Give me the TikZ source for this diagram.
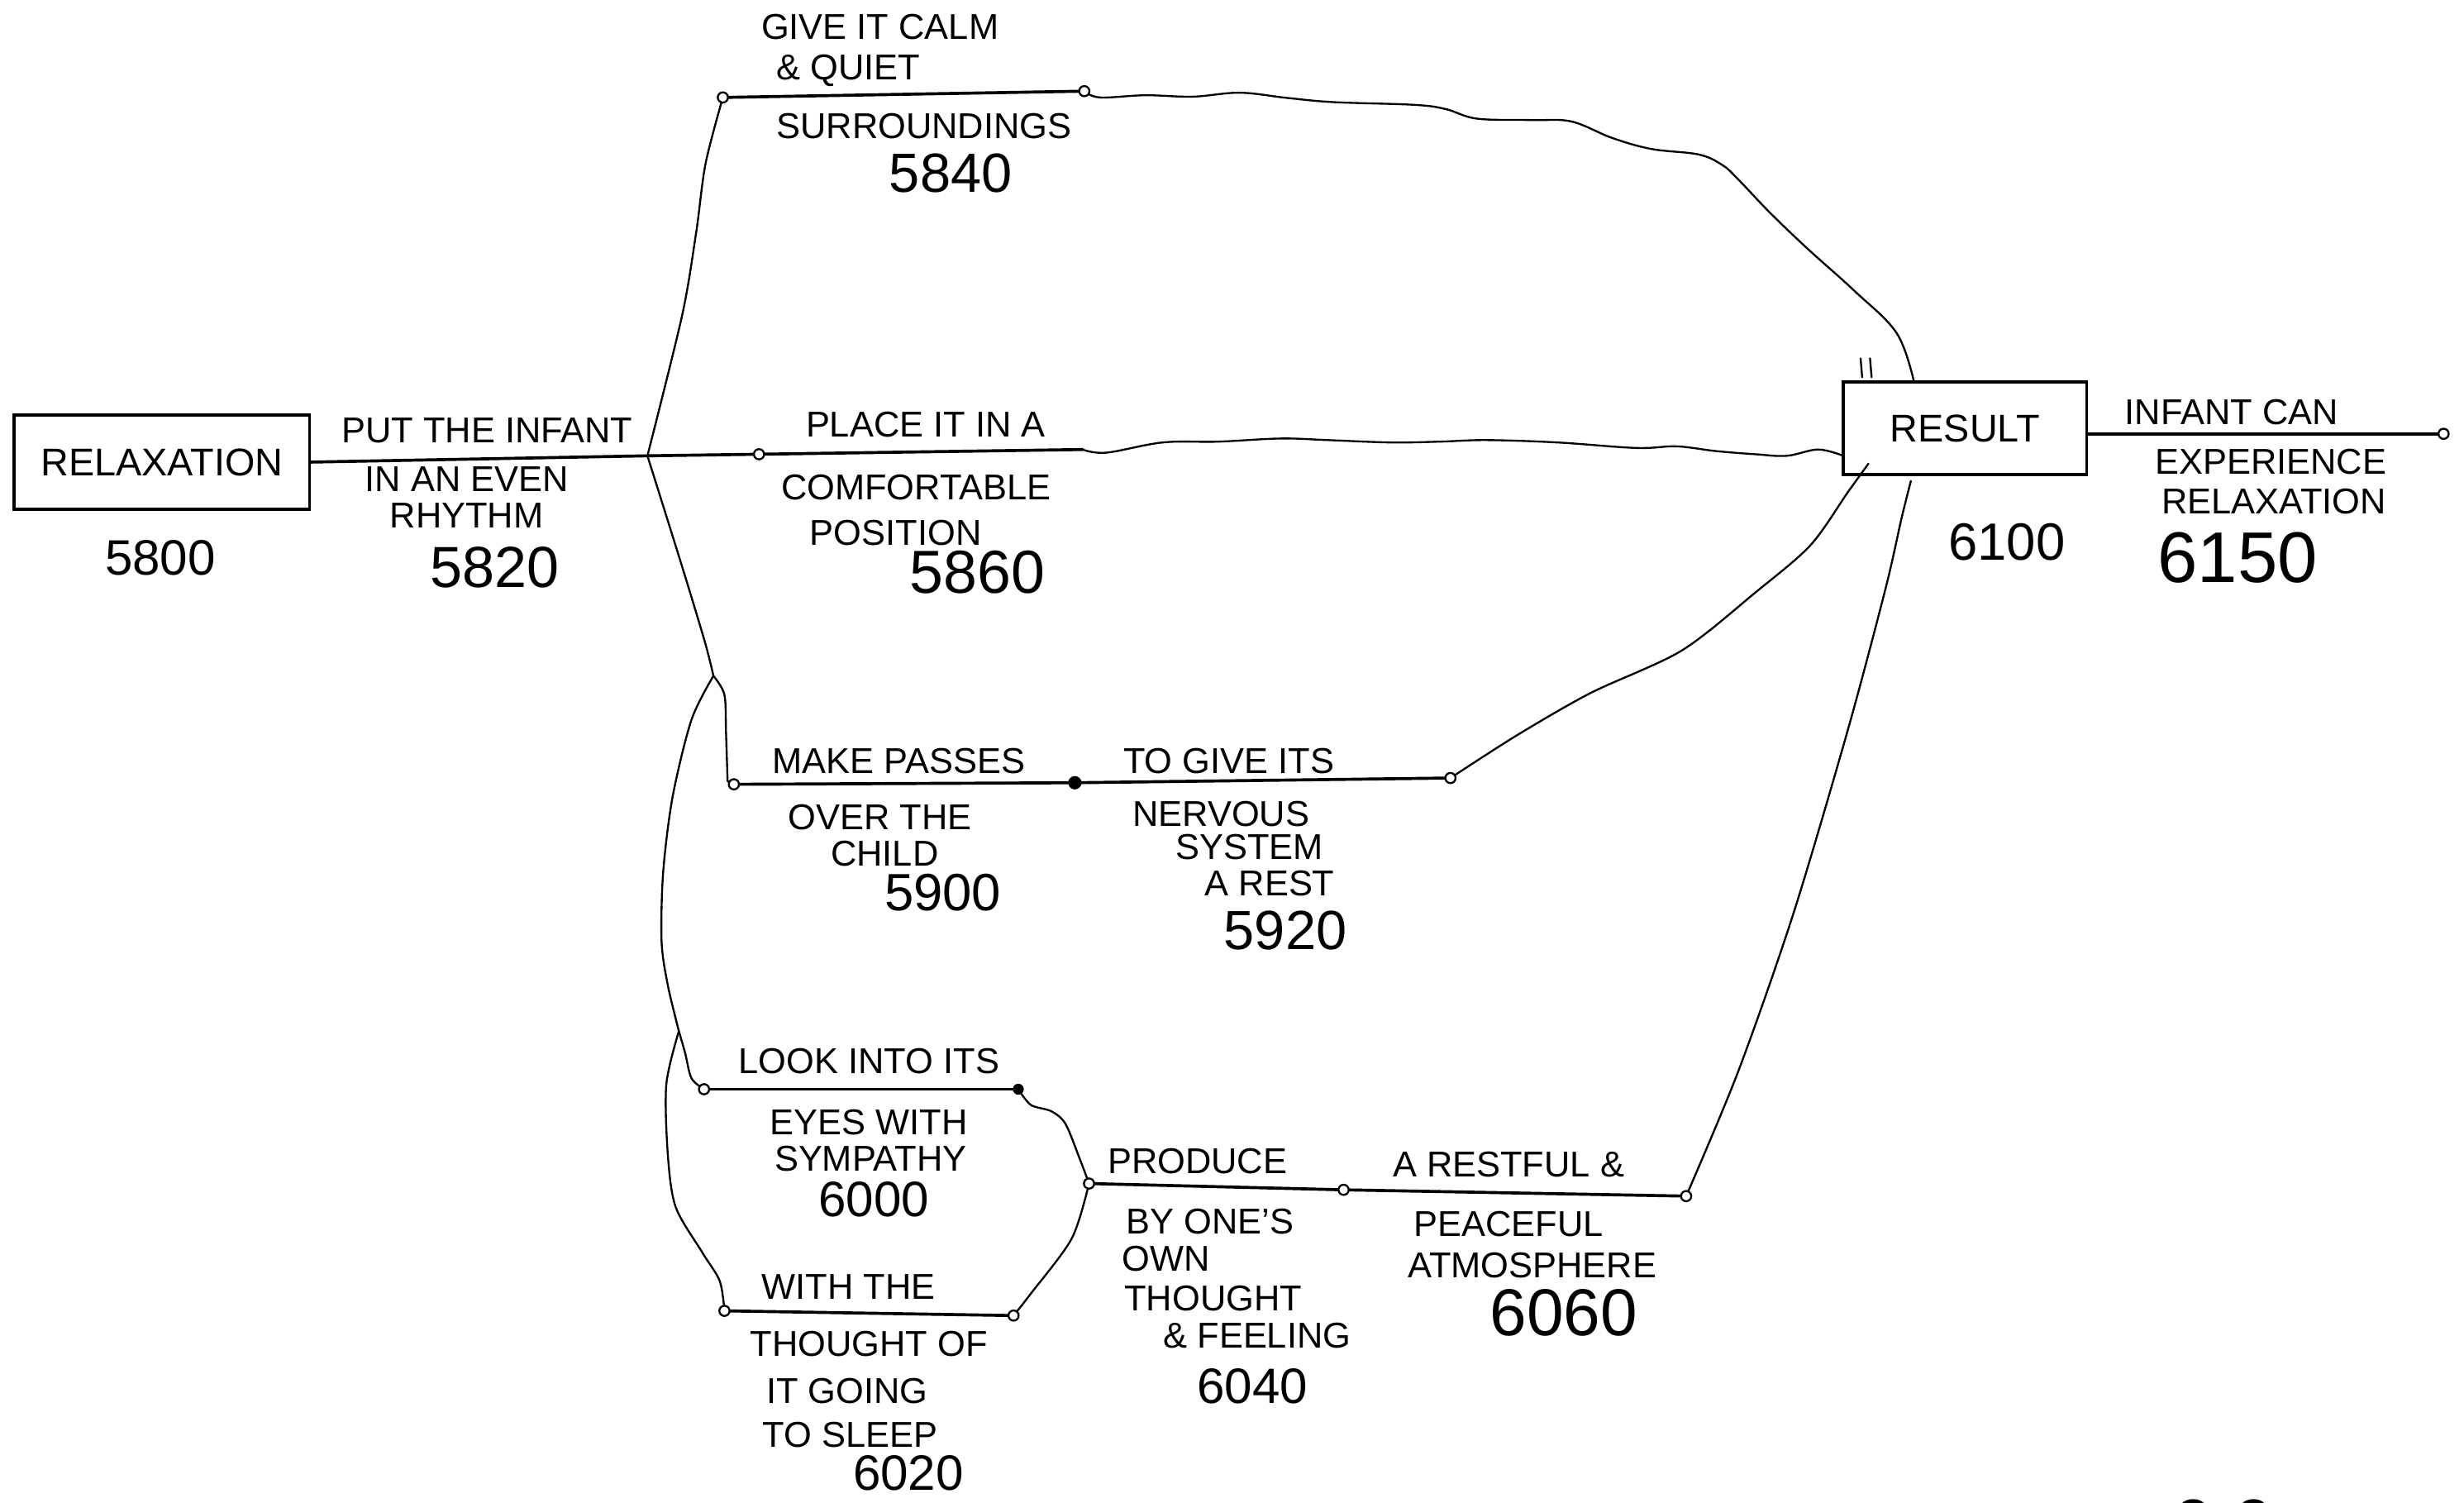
\documentclass[tikz,border=0pt]{standalone}
\usepackage{fontspec}
\setmainfont{Liberation Sans}
\begin{document}
\begin{tikzpicture}[x=0.02cm,y=-0.02cm,
  lbl/.style={inner sep=0pt,font=\fontsize{13}{15}\selectfont},
  num/.style={inner sep=0pt,font=\fontsize{#1}{#1}\selectfont},
  boxn/.style={draw,line width=1pt,inner sep=0pt,font=\fontsize{14}{16}\selectfont},
  stem/.style={line width=1.1pt,line cap=round},
  wire/.style={line width=0.7pt,line cap=round,line join=round},
  endc/.style={circle,draw,fill=white,inner sep=0pt,minimum size=0.13cm,line width=0.7pt},
  dotc/.style={circle,fill=black,inner sep=0pt,minimum size=0.17cm}]
\clip (0,0) rectangle (1568,956);
\fill[white] (0,0) rectangle (1568,956);

% boxes
\node[boxn,minimum width=3.76cm,minimum height=1.2cm] (relax) at (103,294) {RELAXATION};
\node[boxn,minimum width=3.1cm,minimum height=1.18cm] (result) at (1250.5,272.5) {RESULT};

% junction and end points
\coordinate (J) at (412,290);
\coordinate (s1) at (454,430);
\coordinate (s2) at (432,656);
\coordinate (a1) at (460,62);
\coordinate (a2) at (690,58);
\coordinate (b1) at (483,289);
\coordinate (b2) at (689,286);
\coordinate (c1) at (467,499);
\coordinate (c2) at (684,498);
\coordinate (c3) at (923,495);
\coordinate (d1) at (448,693);
\coordinate (d2) at (648,693);
\coordinate (e1) at (461,834);
\coordinate (e2) at (645,837);
\coordinate (f1) at (693,753);
\coordinate (f2) at (855,757);
\coordinate (f3) at (1073,761);
\coordinate (g2) at (1555,276);
\coordinate (rtop) at (1218,243);
\coordinate (rwest) at (1173,290);
\coordinate (rin) at (1189,295);
\coordinate (rbot) at (1216,306);

% main stem
\draw[stem] (relax.east) -- (J);
\draw[stem] (J) -- (b1);
\draw[stem] (b1) -- (b2);
\draw[wire] plot[smooth,tension=0.6] coordinates {(b2) (704,288) (740,281.5) (775,281) (815,279) (845,280) (885,281.5) (916,281) (946,280) (991,281.5) (1041,285) (1067,284) (1092,287) (1117,289) (1137,290) (1157,286) (rwest)};

% top branch
\draw[wire] plot[smooth] coordinates {(J) (434,201) (443,148) (449,104) (a1)};
\draw[stem] (a1) -- (a2);
\draw[wire] plot[smooth,tension=0.6] coordinates {(a2) (700,62) (729,60.6) (759,61.5) (789,59) (819,62.3) (849,65) (900,66.7) (920,69.4) (940,75.5) (975,76.4) (1000,77.3) (1026,87.8) (1051,94.8) (1081,98.3) (1096,105) (1106,114) (1126,135) (1150,158) (1180,185) (1207,212) (rtop)};

% lower branches
\draw[wire] plot[smooth] coordinates {(J) (423,325) (437,370) (449,410) (s1)};
\draw[wire] plot[smooth] coordinates {(s1) (461,442) (462,466) (463,497)} -- (c1);
\draw[stem] (c1) -- (c2) -- (c3);
\draw[wire] plot[smooth] coordinates {(c3) (965,468) (1012,441) (1070,414) (1117,377) (1152,347) (1176,313) (rin)};

\draw[wire] plot[smooth] coordinates {(s1) (440,458) (428,507) (422,555) (421,599) (425,627) (s2)};
\draw[wire] plot[smooth] coordinates {(s2) (436,670) (440,686) (d1)};
\draw[wire] plot[smooth] coordinates {(s2) (424,690) (425,735) (430,768) (447,797) (458,815) (e1)};
\draw[stem] (d1) -- (d2);
\draw[wire] plot[smooth] coordinates {(d2) (656,703) (669,707) (678,715) (687,737) (f1)};
\draw[stem] (e1) -- (e2);
\draw[wire] plot[smooth] coordinates {(e2) (656,823) (682,788) (f1)};
\draw[stem] (f1) -- (f2) -- (f3);
\draw[wire] plot[smooth] coordinates {(f3) (1106,682) (1141,582) (1176,464) (1200,374) (1210,330) (rbot)};

% output
\draw[stem] (result.east |- g2) -- (g2);

% small marks above RESULT
\draw[wire] (1184,228) -- (1185,240);
\draw[wire] (1190,228) -- (1191,240);

% end circles
\foreach \p in {a1,a2,b1,c1,c3,d1,e1,e2,f1,f2,f3,g2}{\node[endc] (o\p) at (\p) {};}
\node[dotc] (oc2) at (c2) {};
\node[dotc,minimum size=0.14cm] (od2) at (d2) {};

% labels
\node[num=18] (t2) at (102,355) {5800};
\node[lbl] (t3) at (310,274) {PUT THE INFANT};
\node[lbl] (t4) at (297,305) {IN AN EVEN};
\node[lbl] (t5) at (297,328) {RHYTHM};
\node[num=21] (t6) at (315,361) {5820};
\node[lbl] (t7) at (560,17) {GIVE IT CALM};
\node[lbl] (t8) at (540,45) {\& QUIET};
\node[lbl] (t9) at (588,80) {SURROUNDINGS};
\node[num=20] (t10) at (605,110) {5840};
\node[lbl] (t11) at (589,270) {PLACE IT IN A};
\node[lbl] (t12) at (583,310) {COMFORTABLE};
\node[lbl] (t13) at (570,339) {POSITION};
\node[num=22] (t14) at (622,364) {5860};
\node[lbl] (t15) at (572,484) {MAKE PASSES};
\node[lbl] (t16) at (560,520) {OVER THE};
\node[lbl] (t17) at (563,543) {CHILD};
\node[num=19] (t18) at (600,568) {5900};
\node[lbl] (t19) at (782,484) {TO GIVE ITS};
\node[lbl] (t20) at (777,518) {NERVOUS};
\node[lbl] (t21) at (795,539) {SYSTEM};
\node[lbl] (t22) at (808,562) {A REST};
\node[num=20] (t23) at (818,592) {5920};
\node[lbl] (t24) at (553,675) {LOOK INTO ITS};
\node[lbl] (t25) at (553,714) {EYES WITH};
\node[lbl] (t26) at (554,737) {SYMPATHY};
\node[num=18] (t27) at (556,763) {6000};
\node[lbl] (t28) at (540,819) {WITH THE};
\node[lbl] (t29) at (553,855) {THOUGHT OF};
\node[lbl] (t30) at (539,885) {IT GOING};
\node[lbl] (t31) at (541,913) {TO SLEEP};
\node[num=18] (t32) at (578,937) {6020};
\node[lbl] (t33) at (762,739) {PRODUCE};
\node[lbl] (t34) at (770,777) {BY ONE'S};
\node[lbl] (t35) at (742,801) {OWN};
\node[lbl] (t36) at (772,826) {THOUGHT};
\node[lbl] (t37) at (800,850) {\& FEELING};
\node[num=18] (t38) at (797,882) {6040};
\node[lbl] (t39) at (960,741) {A RESTFUL \&};
\node[lbl] (t40) at (960,779) {PEACEFUL};
\node[lbl] (t41) at (975,805) {ATMOSPHERE};
\node[num=24] (t42) at (995,835) {6060};
\node[num=19] (t44) at (1277,345) {6100};
\node[lbl] (t45) at (1420,262) {INFANT CAN};
\node[lbl] (t46) at (1445,294) {EXPERIENCE};
\node[lbl] (t47) at (1447,319) {RELAXATION};
\node[num=26] (t48) at (1424,355) {6150};
\node[num=26] (pg) at (1415,970) {0 0};
\end{tikzpicture}
\end{document}
